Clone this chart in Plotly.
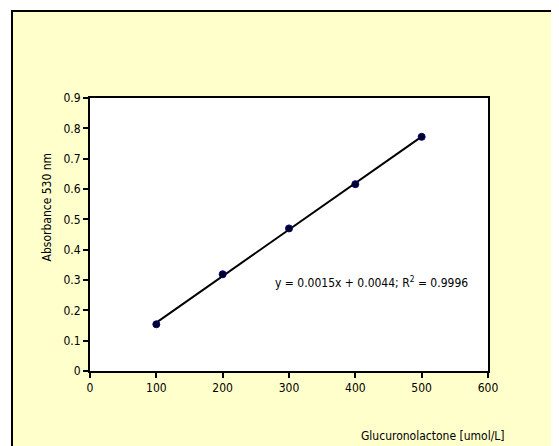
import numpy as np
import plotly.graph_objects as go

conc = [100, 200, 300, 400, 500]
absorbance = [0.154, 0.319, 0.470, 0.616, 0.772]
x_ticks = [0, 100, 200, 300, 400, 500, 600]
y_ticks = [0, 0.1, 0.2, 0.3, 0.4, 0.5, 0.6, 0.7, 0.8, 0.9]
y_tick_labels = ["0", "0.1", "0.2", "0.3", "0.4", "0.5", "0.6", "0.7", "0.8", "0.9"]

slope, intercept = np.polyfit(conc, absorbance, 1)
fit_x = [conc[0], conc[-1]]
fit_y = [slope * v + intercept for v in fit_x]

FONT = "DejaVu Sans Condensed, Liberation Sans Narrow, Arial Narrow, sans-serif"
YELLOW = "#FFFFCC"

fig = go.Figure()
fig.add_trace(go.Scatter(x=fit_x, y=fit_y, mode="lines",
                         line=dict(color="black", width=2), showlegend=False))
fig.add_trace(go.Scatter(x=conc, y=absorbance, mode="markers",
                         marker=dict(color="#000020", size=7, line=dict(color="#000080", width=1)),
                         showlegend=False))

fig.update_layout(
    width=551, height=438,
    margin=dict(l=82, r=71, t=90, b=75, autoexpand=False),
    paper_bgcolor="white", plot_bgcolor="white",
    font=dict(family=FONT, size=12, color="black"),
    xaxis=dict(range=[0, 600], tickvals=x_ticks, ticks="outside", ticklen=5,
               tickwidth=2, tickcolor="black", showline=True, linewidth=2,
               linecolor="black", mirror=True, showgrid=False, zeroline=False,
               tickfont=dict(family=FONT, size=12)),
    yaxis=dict(range=[0, 0.9], tickvals=y_ticks, ticktext=y_tick_labels, ticks="outside", ticklen=5,
               tickwidth=2, tickcolor="black", showline=True, linewidth=2,
               linecolor="black", mirror=True, showgrid=False, zeroline=False,
               tickfont=dict(family=FONT, size=12)),
    shapes=[
        dict(type="rect", xref="paper", yref="paper", x0=-0.196, x1=1.173,
             y0=-0.5, y1=1.3187, line=dict(color="black", width=2),
             fillcolor=YELLOW, layer="below"),
        dict(type="rect", xref="paper", yref="paper", x0=0, x1=1, y0=0, y1=1,
             line=dict(width=0), fillcolor="white", layer="below"),
    ],
    annotations=[
        dict(text="y = 0.0015x + 0.0044; R<sup>2</sup> = 0.9996", x=424, y=0.293,
             xref="x", yref="y", showarrow=False, font=dict(family=FONT, size=12)),
        dict(text="Absorbance 530 nm", textangle=-90, xref="paper", yref="paper",
             x=-0.1307, y=0.8095, showarrow=False, font=dict(family=FONT, size=12)),
        dict(text="Glucuronolactone [umol/L]", xref="paper", yref="paper",
             x=1.0477, y=-0.238, xanchor="right", yanchor="middle", showarrow=False,
             font=dict(family=FONT, size=12)),
    ],
)
fig.write_html("out.html")
